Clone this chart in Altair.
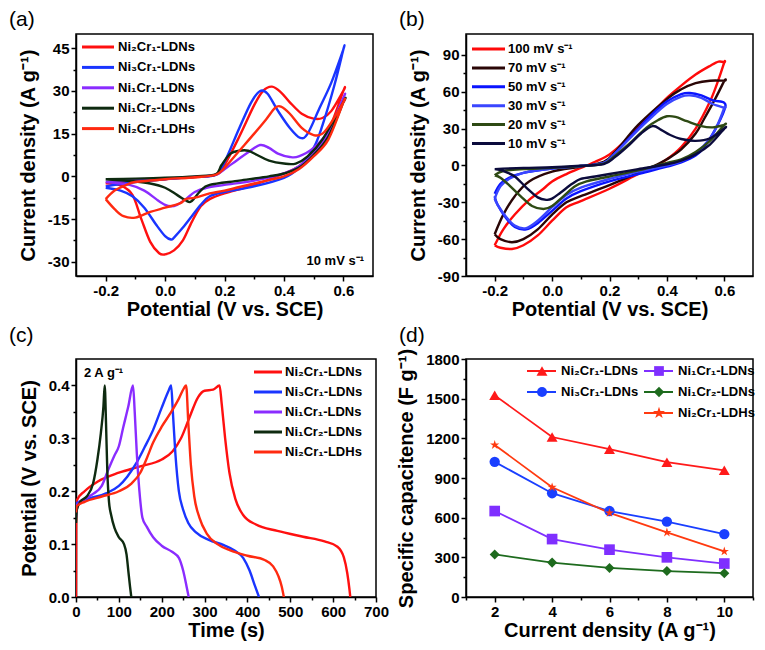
import altair as alt
import pandas as pd

FONT = "Liberation Sans"

# ---------------- Panel (a): CV of five samples at 10 mV/s ----------------
a_names = ["Ni₂Cr₁-LDNs", "Ni₃Cr₁-LDNs", "Ni₁Cr₁-LDNs", "Ni₁Cr₂-LDNs", "Ni₂Cr₁-LDHs"]
a_colors = ["#ff1010", "#1a35ff", "#8a2cff", "#0e2a10", "#ff2a10"]

a_ni2cr1_ldns_E = [-0.2, -0.1, 0.0, 0.1, 0.17, 0.2, 0.25, 0.3, 0.33, 0.36, 0.39, 0.42, 0.46, 0.5, 0.53, 0.56, 0.6,
                   0.6, 0.55, 0.5, 0.45, 0.4, 0.3, 0.2, 0.15, 0.12, 0.09, 0.06, 0.03, 0.0, -0.02, -0.05, -0.08, -0.11, -0.15, -0.2]
a_ni2cr1_ldns_J = [-2.4, -1.8, -1.0, -0.3, 0.6, 4, 14, 25, 30, 31.5, 29.5, 26, 22, 20.3, 20.5, 23, 30,
                   30, 16, 8, 3.5, 1, -3, -6, -8, -10.5, -16, -22.5, -26, -27.4, -27, -23, -15, -6.5, -3.2, -2.4]
a_ni3cr1_E = [-0.2, -0.1, 0.0, 0.1, 0.17, 0.2, 0.25, 0.29, 0.32, 0.345, 0.38, 0.42, 0.455, 0.48, 0.52, 0.56, 0.6,
              0.6, 0.57, 0.53, 0.5, 0.45, 0.4, 0.3, 0.2, 0.15, 0.12, 0.09, 0.06, 0.03, 0.02, 0.0, -0.03, -0.07, -0.11, -0.15, -0.2]
a_ni3cr1_J = [-3.5, -2, -1, -0.2, 0.5, 5, 17, 26, 30, 29, 23, 17, 13.5, 15, 24, 33, 44.5,
              44.5, 32, 18, 10, 3, -0.5, -3.5, -5.5, -7, -10, -14, -18, -21.5, -22.2, -21, -17, -11, -7, -5, -4]
a_ni1cr1_E = [-0.2, -0.1, 0.0, 0.1, 0.17, 0.2, 0.24, 0.28, 0.32, 0.35, 0.38, 0.42, 0.45, 0.5, 0.55, 0.6,
              0.6, 0.55, 0.5, 0.45, 0.4, 0.3, 0.2, 0.14, 0.1, 0.07, 0.04, 0.02, 0.0, -0.03, -0.07, -0.12, -0.2]
a_ni1cr1_J = [-2, -1.3, -0.8, -0.2, 0.5, 2.5, 5.5, 8.5, 11, 10, 8, 6.8, 7, 10, 16, 27.5,
              27.5, 15, 8, 3.5, 1, -1.5, -3, -4, -5.5, -8, -10, -10.5, -10, -8, -5, -3, -2]
a_ni1cr2_E = [-0.2, -0.1, 0.0, 0.1, 0.17, 0.19, 0.22, 0.25, 0.28, 0.31, 0.35, 0.4, 0.44, 0.48, 0.53, 0.6,
              0.6, 0.55, 0.5, 0.45, 0.4, 0.35, 0.25, 0.15, 0.12, 0.1, 0.085, 0.07, 0.04, 0.0, -0.05, -0.1, -0.2]
a_ni1cr2_J = [-1, -0.8, -0.5, 0, 0.7, 4, 8, 9, 9, 7.5, 5.5, 4.5, 4.5, 7, 13, 26,
              26, 14, 7.5, 3, 1, 0, -1.5, -3, -5, -7.5, -9, -8.5, -6.5, -4, -2.5, -1.8, -1]
a_ni2cr1_ldhs_E = [-0.2, -0.17, -0.13, -0.1, 0.0, 0.1, 0.17, 0.2, 0.25, 0.3, 0.34, 0.37, 0.39, 0.42, 0.46, 0.5, 0.53, 0.56, 0.6,
                   0.6, 0.55, 0.5, 0.45, 0.4, 0.3, 0.2, 0.15, 0.1, 0.07, 0.05, 0.0, -0.05, -0.1, -0.14, -0.17, -0.2]
a_ni2cr1_ldhs_J = [-8, -5, -3, -2, -1, -0.3, 0.5, 3, 9, 15, 20, 24, 24.5, 22, 17, 14.5, 15, 19, 26,
                   26, 13, 7, 2.5, 0, -2.5, -5, -6, -7.5, -8, -9.5, -11, -12.5, -14.5, -14, -11.5, -8]

# ---------------- Panel (b): CV of Ni2Cr1-LDNs at several scan rates ----------------
b_names = ["100 mV s⁻¹", "70 mV s⁻¹", "50 mV s⁻¹", "30 mV s⁻¹", "20 mV s⁻¹", "10 mV s⁻¹"]
b_colors = ["#ff0a0a", "#2a0606", "#0a14ff", "#3a46ff", "#2e4a14", "#0b0b3c"]

b_100_E = [-0.2, -0.17, -0.13, -0.08, -0.03, 0.0, 0.05, 0.1, 0.15, 0.2, 0.25, 0.3, 0.35, 0.4, 0.45, 0.5, 0.55, 0.58, 0.6,
           0.6, 0.58, 0.55, 0.5, 0.45, 0.4, 0.35, 0.3, 0.2, 0.1, 0.05, 0.0, -0.05, -0.1, -0.14, -0.18, -0.2]
b_100_J = [-65, -52, -40, -28, -19, -13, -7, -2, 3, 9, 19, 31, 43, 55, 65, 74, 81, 84.5, 84,
           84, 70, 52, 30, 15, 5, -2, -7, -19, -29, -34, -45, -57, -65, -68, -67, -65]
b_70_E = [-0.2, -0.17, -0.13, -0.08, 0.0, 0.1, 0.18, 0.22, 0.3, 0.4, 0.45, 0.5, 0.55, 0.6,
          0.6, 0.57, 0.53, 0.5, 0.45, 0.4, 0.35, 0.3, 0.2, 0.1, 0.05, 0.0, -0.05, -0.1, -0.14, -0.18, -0.2]
b_70_J = [-56, -40, -25, -13, -5, -1, 3, 11, 33, 54, 62, 67, 69, 69,
          69, 55, 38, 26, 13, 5, -1, -6, -16, -25, -30, -40, -52, -60, -62.5, -60, -56]
b_50_E = [-0.2, -0.18, -0.15, -0.1, 0.0, 0.1, 0.18, 0.22, 0.3, 0.35, 0.4, 0.45, 0.48, 0.52, 0.56, 0.6,
          0.6, 0.57, 0.53, 0.5, 0.45, 0.4, 0.3, 0.2, 0.1, 0.05, 0.0, -0.05, -0.09, -0.13, -0.16, -0.19, -0.2]
b_50_J = [-23, -15, -10, -6, -2.5, -0.5, 2, 10, 30, 42, 52, 58, 59, 57, 53, 51,
          45, 30, 15, 8, 2.5, -1, -7, -13, -21, -27, -37, -47, -52, -50, -43, -32, -25]
b_30_E = [-0.2, -0.18, -0.15, -0.1, 0.0, 0.1, 0.18, 0.22, 0.3, 0.35, 0.4, 0.45, 0.48, 0.52, 0.56, 0.6,
          0.6, 0.58, 0.55, 0.5, 0.45, 0.4, 0.3, 0.2, 0.1, 0.05, 0.0, -0.05, -0.09, -0.13, -0.16, -0.19, -0.2]
b_30_J = [-27, -17, -11, -6, -2.5, -0.5, 2, 10, 29, 40, 50, 56, 57, 55, 50, 47,
          47, 35, 22, 10, 3.5, 0, -5, -11, -18, -24, -34, -45, -51, -49, -42, -32, -27]
b_20_E = [-0.2, -0.17, -0.1, 0.0, 0.1, 0.18, 0.22, 0.28, 0.33, 0.37, 0.4, 0.43, 0.47, 0.52, 0.56, 0.6,
          0.6, 0.55, 0.5, 0.45, 0.4, 0.3, 0.2, 0.12, 0.08, 0.04, 0.0, -0.03, -0.07, -0.11, -0.15, -0.18, -0.2]
b_20_J = [-8, -4.5, -3, -2, -0.5, 1.5, 8, 20, 31, 37, 40, 39.5, 36, 32, 31, 33,
          33, 20, 11, 5, 2, -4, -9, -13, -17, -25, -33, -35.5, -33, -25, -16, -10, -8]
b_10_E = [-0.2, -0.1, 0.0, 0.1, 0.18, 0.22, 0.27, 0.31, 0.35, 0.38, 0.41, 0.45, 0.5, 0.55, 0.6,
          0.6, 0.55, 0.5, 0.45, 0.4, 0.3, 0.2, 0.15, 0.1, 0.07, 0.03, 0.0, -0.02, -0.05, -0.09, -0.13, -0.17, -0.2]
b_10_J = [-3, -2, -1.5, -0.3, 1, 7, 17, 26, 32, 29, 25, 21.5, 20, 22, 30,
          30, 17, 9, 4, 1, -3, -7, -9, -11, -15, -22, -27, -28, -26, -18, -9, -4.5, -3]

# ---------------- Panel (c): GCD at 2 A/g ----------------
c_names = a_names
c_colors = ["#ff1010", "#1a35ff", "#8a2cff", "#0e2a10", "#ff2a10"]
c_ni2cr1_ldns_t = [0, 0.5, 2, 20, 50, 100, 150, 200, 225, 245, 265, 285, 300, 320, 335, 340, 348, 358, 372, 390, 420, 470, 530, 580, 610, 625, 633, 638, 640]
c_ni2cr1_ldns_v = [0.0, 0.15, 0.183, 0.2, 0.218, 0.235, 0.247, 0.26, 0.275, 0.3, 0.34, 0.378, 0.39, 0.392, 0.40, 0.365, 0.3, 0.235, 0.185, 0.155, 0.137, 0.125, 0.114, 0.105, 0.095, 0.075, 0.045, 0.015, 0.0]
c_ni3cr1_t = [0, 2, 30, 70, 100, 120, 140, 160, 180, 200, 215, 222, 226, 232, 240, 250, 262, 280, 310, 345, 370, 390, 405, 418, 427]
c_ni3cr1_v = [0.165, 0.178, 0.186, 0.196, 0.21, 0.228, 0.252, 0.283, 0.316, 0.358, 0.388, 0.40, 0.35, 0.27, 0.2, 0.165, 0.14, 0.122, 0.108, 0.098, 0.088, 0.074, 0.05, 0.02, 0.0]
c_ni1cr1_t = [0, 3, 20, 40, 60, 75, 90, 100, 110, 122, 133, 137, 142, 148, 155, 165, 180, 200, 225, 240, 250, 258, 263]
c_ni1cr1_v = [0.15, 0.175, 0.185, 0.195, 0.21, 0.24, 0.268, 0.285, 0.32, 0.36, 0.40, 0.35, 0.27, 0.2, 0.15, 0.133, 0.113, 0.097, 0.085, 0.074, 0.05, 0.02, 0.0]
c_ni1cr2_t = [0, 2, 10, 25, 40, 50, 58, 64, 67, 70, 73, 77, 82, 90, 100, 112, 118, 122, 126, 129]
c_ni1cr2_v = [0.14, 0.165, 0.18, 0.19, 0.215, 0.26, 0.31, 0.36, 0.40, 0.33, 0.24, 0.18, 0.155, 0.13, 0.113, 0.1, 0.08, 0.05, 0.02, 0.0]
c_ni2cr1_ldhs_t = [0, 2, 20, 60, 100, 130, 150, 165, 180, 200, 220, 240, 252, 257, 262, 268, 276, 288, 305, 330, 360, 400, 440, 460, 472, 480, 485]
c_ni2cr1_ldhs_v = [0.16, 0.172, 0.18, 0.19, 0.2, 0.215, 0.235, 0.262, 0.292, 0.322, 0.347, 0.375, 0.395, 0.40, 0.33, 0.25, 0.19, 0.15, 0.12, 0.1, 0.088, 0.078, 0.07, 0.058, 0.04, 0.02, 0.0]

# ---------------- Panel (d): rate capability ----------------
d_current = [2, 4, 6, 8, 10]
d_names = ["Ni₂Cr₁-LDNs", "Ni₁Cr₁-LDNs", "Ni₃Cr₁-LDNs", "Ni₁Cr₂-LDNs", "Ni₂Cr₁-LDHs"]
d_colors = ["#ff1a1a", "#7f2fff", "#1a3fff", "#1e6b1e", "#ff3a10"]
STAR = "M0,-1L0.2245,-0.309L0.951,-0.309L0.363,0.118L0.588,0.809L0,0.382L-0.588,0.809L-0.363,0.118L-0.951,-0.309L-0.2245,-0.309Z"
d_shapes = ["triangle-up", "square", "circle", "diamond", STAR]
d_sizes = [120, 95, 100, 110, 160]
d_ni2cr1_ldns = [1525, 1210, 1118, 1020, 958]
d_ni1cr1 = [650, 438, 358, 300, 253]
d_ni3cr1 = [1022, 785, 650, 570, 476]
d_ni1cr2 = [322, 260, 220, 196, 180]
d_ni2cr1_ldhs = [1150, 830, 636, 488, 345]


def loop_df(names, xs_list, ys_list):
    rows = []
    for name, xs, ys in zip(names, xs_list, ys_list):
        for i, (x, y) in enumerate(zip(xs, ys)):
            rows.append({"series": name, "x": x, "y": y, "i": i})
    return pd.DataFrame(rows)


def signed_expr(fmt):
    return "(datum.value < 0 ? '-' : '') + format(abs(datum.value), '%s')" % fmt


def text_layer(txt, x, y, size=13, weight="bold", align="left", baseline="middle"):
    return alt.Chart(pd.DataFrame({"t": [txt]})).mark_text(
        align=align, baseline=baseline, font=FONT, fontSize=size, fontWeight=weight, color="black"
    ).encode(text="t:N", x=alt.value(x), y=alt.value(y))


def line_legend(names, colors, x0, y0, dy, length, gap, stroke_w=3.0):
    """Legend drawn in plot pixels: one short line and one label per series."""
    out = []
    for k, (nm, col) in enumerate(zip(names, colors)):
        yy = y0 + dy * k
        out.append(alt.Chart(pd.DataFrame({"t": [nm]})).mark_rule(color=col, strokeWidth=stroke_w).encode(
            x=alt.value(x0), x2=alt.value(x0 + length), y=alt.value(yy)))
        out.append(text_layer(nm, x0 + length + gap, yy))
    return out


def make_panel(df, names, colors, xdom, ydom, xmaj, xmin, ymaj, ymin, xfmt, yfmt,
               xtitle, ytitle, w, h, tag, tag_y, interp, stroke_w=2.4, extra=()):
    xs = alt.Scale(domain=xdom, nice=False, zero=False)
    ys = alt.Scale(domain=ydom, nice=False, zero=False)
    color = alt.Color("series:N", scale=alt.Scale(domain=names, range=colors), legend=None)
    lines = alt.Chart(df).mark_line(strokeWidth=stroke_w, interpolate=interp, clip=True).encode(
        x=alt.X("x:Q", scale=xs, axis=alt.Axis(values=xmaj, title=xtitle, labelExpr=signed_expr(xfmt),
                                               tickSize=5, labelPadding=2, titlePadding=1)),
        y=alt.Y("y:Q", scale=ys, axis=alt.Axis(values=ymaj, title=ytitle, labelExpr=signed_expr(yfmt),
                                               tickSize=5, labelPadding=2, titlePadding=9)),
        color=color,
        order="i:Q",
    )
    minor = alt.Chart(pd.DataFrame({"x": [xdom[0]], "y": [ydom[0]]})).mark_point(opacity=0).encode(
        x=alt.X("x:Q", scale=xs, axis=alt.Axis(values=xmin, orient="bottom", labels=False, title=None,
                                               domain=False, tickSize=3)),
        y=alt.Y("y:Q", scale=ys, axis=alt.Axis(values=ymin, orient="left", labels=False, title=None,
                                               domain=False, tickSize=3)),
    )
    tag_layer = text_layer(tag, -67, tag_y, size=21, weight="normal", baseline="top")
    layers = [lines] + list(extra) + [minor, tag_layer]
    return alt.layer(*layers).resolve_axis(x="independent", y="independent").properties(width=w, height=h)


# ----- panel (a)
df_a = loop_df(a_names,
               [a_ni2cr1_ldns_E, a_ni3cr1_E, a_ni1cr1_E, a_ni1cr2_E, a_ni2cr1_ldhs_E],
               [a_ni2cr1_ldns_J, a_ni3cr1_J, a_ni1cr1_J, a_ni1cr2_J, a_ni2cr1_ldhs_J])
panel_a = make_panel(
    df_a, a_names, a_colors,
    [-0.3, 0.7], [-35, 50], [-0.2, 0.0, 0.2, 0.4, 0.6], [-0.1, 0.1, 0.3, 0.5],
    [-30, -15, 0, 15, 30, 45], [-22.5, -7.5, 7.5, 22.5, 37.5], ".1f", "d",
    "Potential (V vs. SCE)", "Current density (A g⁻¹)", 297, 242, "(a)", -25, "cardinal",
    extra=line_legend(a_names, a_colors, 6, 13, 20.4, 32, 4)
    + [text_layer("10 mV s⁻¹", 288, 227, align="right")],
)

# ----- panel (b)
df_b = loop_df(b_names,
               [b_100_E, b_70_E, b_50_E, b_30_E, b_20_E, b_10_E],
               [b_100_J, b_70_J, b_50_J, b_30_J, b_20_J, b_10_J])
panel_b = make_panel(
    df_b, b_names, b_colors,
    [-0.3, 0.7], [-90, 107], [-0.2, 0.0, 0.2, 0.4, 0.6], [-0.1, 0.1, 0.3, 0.5],
    [-90, -60, -30, 0, 30, 60, 90], [-75, -45, -15, 15, 45, 75], ".1f", "d",
    "Potential (V vs. SCE)", "Current density (A g⁻¹)", 287, 242, "(b)", -25, "cardinal",
    extra=line_legend(b_names, b_colors, 6, 15, 18.9, 33, 3),
)

# ----- panel (c)
df_c = loop_df(c_names,
               [c_ni2cr1_ldns_t, c_ni3cr1_t, c_ni1cr1_t, c_ni1cr2_t, c_ni2cr1_ldhs_t],
               [c_ni2cr1_ldns_v, c_ni3cr1_v, c_ni1cr1_v, c_ni1cr2_v, c_ni2cr1_ldhs_v])
panel_c = make_panel(
    df_c, c_names, c_colors,
    [0, 700], [0, 0.45], [0, 100, 200, 300, 400, 500, 600, 700], [50, 150, 250, 350, 450, 550, 650],
    [0.0, 0.1, 0.2, 0.3, 0.4], [0.05, 0.15, 0.25, 0.35], "d", ".1f",
    "Time (s)", "Potential (V vs. SCE)", 300, 238, "(c)", -34, "monotone",
    extra=line_legend(c_names, c_colors, 178, 13, 20, 28, 3) + [text_layer("2 A g⁻¹", 8, 14)],
)

# ----- panel (d)
d_series = [d_ni2cr1_ldns, d_ni1cr1, d_ni3cr1, d_ni1cr2, d_ni2cr1_ldhs]
df_d = loop_df(d_names, [d_current] * len(d_names), d_series)
xs_d = alt.Scale(domain=[1, 11], nice=False, zero=False)
ys_d = alt.Scale(domain=[0, 1800], nice=False, zero=False)
points_d = alt.Chart(df_d).mark_point(filled=True, opacity=1).encode(
    x=alt.X("x:Q", scale=xs_d, axis=None),
    y=alt.Y("y:Q", scale=ys_d, axis=None),
    color=alt.Color("series:N", scale=alt.Scale(domain=d_names, range=d_colors), legend=None),
    shape=alt.Shape("series:N", scale=alt.Scale(domain=d_names, range=d_shapes), legend=None),
    size=alt.Size("series:N", scale=alt.Scale(domain=d_names, range=d_sizes), legend=None),
)
legend_d = []
for k, (nm, col, shp, sz) in enumerate(zip(d_names, d_colors, d_shapes, d_sizes)):
    c_idx = 1 if k == 4 else k % 2
    r_idx = k // 2
    x1 = 61 + 117 * c_idx
    yy = 12 + 21 * r_idx
    legend_d.append(alt.Chart(pd.DataFrame({"t": [nm]})).mark_rule(color=col, strokeWidth=2).encode(
        x=alt.value(x1), x2=alt.value(x1 + 29), y=alt.value(yy)))
    legend_d.append(alt.Chart(pd.DataFrame({"t": [nm]})).mark_point(
        color=col, filled=True, opacity=1, shape=shp, size=sz).encode(x=alt.value(x1 + 15), y=alt.value(yy)))
    legend_d.append(text_layer(nm, x1 + 34, yy))

panel_d = make_panel(
    df_d, d_names, d_colors,
    [1, 11], [0, 1800], [2, 4, 6, 8, 10], [1, 3, 5, 7, 9, 11],
    [0, 300, 600, 900, 1200, 1500, 1800], [150, 450, 750, 1050, 1350, 1650], "d", "d",
    "Current density (A g⁻¹)", "Specific capacitence (F g⁻¹)", 287, 238, "(d)", -34, "linear",
    stroke_w=1.8, extra=[points_d] + legend_d,
)

chart = alt.concat(
    panel_a, panel_b, panel_c, panel_d,
    columns=2, bounds="flush", spacing=alt.RowColnumber(row=83, column=90),
).resolve_scale(
    color="independent", shape="independent", size="independent"
).properties(
    padding={"left": 0, "top": 0, "right": 0, "bottom": 0}
).configure_view(
    stroke="black", strokeWidth=1.5
).configure_axis(
    labelFont=FONT, labelFontSize=15, labelFontWeight="bold", labelColor="black",
    titleFont=FONT, titleFontSize=20, titleFontWeight="bold", titleColor="black",
    grid=False, domainColor="black", domainWidth=1.5, tickColor="black", tickWidth=1.5,
    labelFlush=False, labelOverlap=False,
)

chart.save("out.html", embed_options={"renderer": "svg", "actions": False})
